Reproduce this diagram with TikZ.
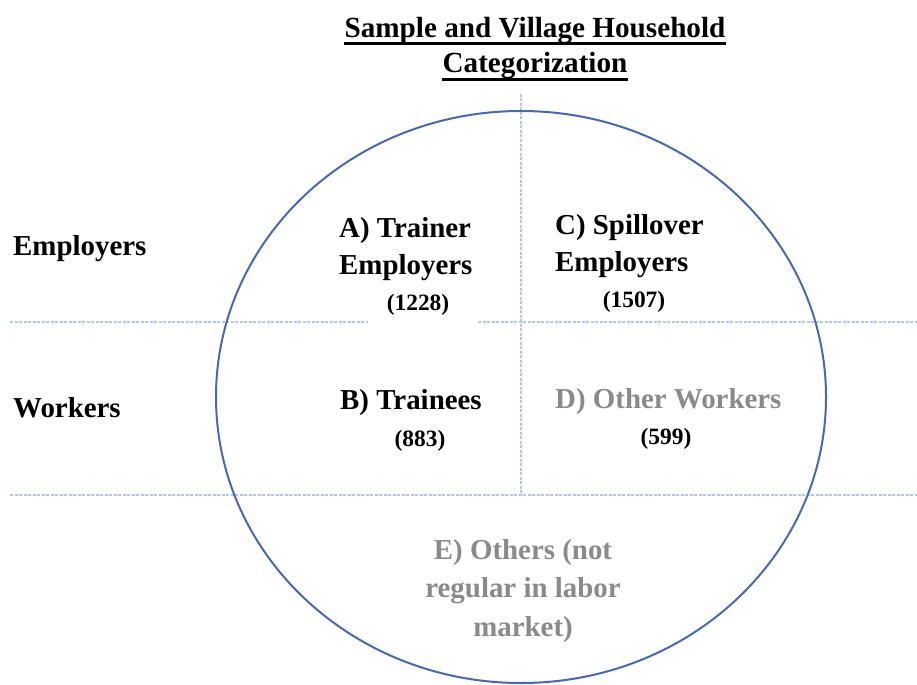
\documentclass[tikz,border=0pt]{standalone}
\usepackage{fontspec}
\usetikzlibrary{shapes.geometric}
\setmainfont{Liberation Serif}
\definecolor{ellblue}{HTML}{4A69AC}
\definecolor{dashblue}{HTML}{B4C6E7}
\definecolor{txtgray}{HTML}{8A8A8A}
\tikzset{
  divline/.style={draw=dashblue, line width=1.3bp, dash pattern=on 3bp off 1.5bp},
  bigtxt/.style={inner sep=0pt, font=\bfseries\fontsize{29}{37}\selectfont},
  numtxt/.style={inner sep=0pt, font=\bfseries\fontsize{23.5}{28}\selectfont},
  titletxt/.style={inner sep=0pt, font=\bfseries\fontsize{29.3}{37}\selectfont},
  uline/.style={line width=3bp, black}
}
\begin{document}
\begin{tikzpicture}[x=1bp,y=-1bp]
\useasboundingbox (0,0) rectangle (917,685);
% dashed dividers
\coordinate (hl1a) at (10,322);
\coordinate (hl1b) at (368,322);
\coordinate (hl1c) at (478,322);
\coordinate (hl1d) at (917,322);
\coordinate (hl2a) at (10,495);
\coordinate (hl2b) at (917,495);
\coordinate (vla) at (521,94);
\coordinate (vlb) at (521,495);
\draw[divline] (hl1a) -- (hl1b);
\draw[divline] (hl1c) -- (hl1d);
\draw[divline] (hl2a) -- (hl2b);
\draw[divline] (vla) -- (vlb);
% ellipse
\node[draw=ellblue, line width=2bp, ellipse, minimum width=610bp, minimum height=572bp, inner sep=0pt] (ell) at (521,397) {};
% title
\node[titletxt, anchor=base] (t1) at (535,38) {Sample and Village Household};
\node[titletxt, anchor=base] (t2) at (535,73) {Categorization};
\draw[uline] ([yshift=-6bp]t1.base west) -- ([yshift=-6bp]t1.base east);
\draw[uline] ([yshift=-7bp]t2.base west) -- ([yshift=-7bp]t2.base east);
% row labels
\node[bigtxt, anchor=west] (emp) at (13,249) {Employers};
\node[bigtxt, anchor=west] (wor) at (13,408) {Workers};
% cells
\node[bigtxt, anchor=west, align=left] (A) at (339,249) {A) Trainer\\Employers};
\node[numtxt] (An) at (418,305) {(1228)};
\node[bigtxt, anchor=west, align=left] (C) at (555,246) {C) Spillover\\Employers};
\node[numtxt] (Cn) at (634,302) {(1507)};
\node[bigtxt, anchor=west] (B) at (340,403) {B) Trainees};
\node[numtxt] (Bn) at (420,441) {(883)};
\node[bigtxt, anchor=west, text=txtgray] (D) at (555,402) {D) Other Workers};
\node[numtxt] (Dn) at (666,439) {(599)};
\node[inner sep=0pt, font=\bfseries\fontsize{29}{39}\selectfont, align=center, text=txtgray] (E) at (523,591) {E) Others (not\\regular in labor\\market)};
\end{tikzpicture}
\end{document}
